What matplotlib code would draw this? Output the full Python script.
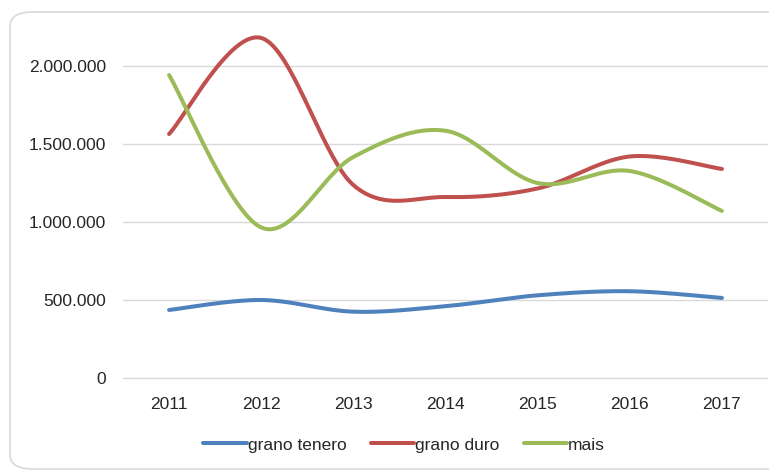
import numpy as np
import matplotlib
matplotlib.use("Agg")
import matplotlib.pyplot as plt
from matplotlib.patches import FancyBboxPatch
from matplotlib.ticker import FuncFormatter

anni = ["2011", "2012", "2013", "2014", "2015", "2016", "2017"]
grano_tenero = [436000, 500000, 425000, 460000, 530000, 556000, 513000]
grano_duro = [1564000, 2180000, 1237000, 1160000, 1215000, 1420000, 1340000]
mais = [1942000, 965000, 1417000, 1585000, 1250000, 1327000, 1071000]

serie = [("grano tenero", grano_tenero, "#4F81BD"),
         ("grano duro", grano_duro, "#C0504D"),
         ("mais", mais, "#9BBB59")]


def smooth(y, n=40):
    # curva tipo Excel (Catmull-Rom -> Bezier)
    y = np.asarray(y, dtype=float)
    x = np.arange(len(y), dtype=float)
    pts = np.column_stack([x, y])
    out = []
    for i in range(len(pts) - 1):
        p0 = pts[max(i - 1, 0)]
        p1 = pts[i]
        p2 = pts[i + 1]
        p3 = pts[min(i + 2, len(pts) - 1)]
        c1 = p1 + (p2 - p0) / 6
        c2 = p2 - (p3 - p1) / 6
        t = np.linspace(0, 1, n)[:, None]
        seg = ((1 - t) ** 3) * p1 + 3 * ((1 - t) ** 2) * t * c1 + 3 * (1 - t) * t ** 2 * c2 + t ** 3 * p2
        out.append(seg if i == 0 else seg[1:])
    out = np.vstack(out)
    return out[:, 0], out[:, 1]


plt.rcParams['font.family'] = ['Liberation Sans', 'DejaVu Sans']

fig = plt.figure(figsize=(7.69, 4.73), dpi=100)
fig.patches.append(FancyBboxPatch((10 / 769, 4 / 473), 1.2, 457 / 473,
                                  boxstyle="round,pad=0,rounding_size=0.03",
                                  transform=fig.transFigure, facecolor="white",
                                  edgecolor="#D9D9D9", linewidth=1.2, zorder=-5))

ax = fig.add_axes([123 / 769, 1 - 380 / 473, 645 / 769, 355 / 473])
ax.set_facecolor("none")
ax.set_zorder(2)

for nome, vals, col in serie:
    xs, ys = smooth(vals)
    ax.plot(xs, ys, color=col, lw=2.9, solid_capstyle="round", label=nome, zorder=3)

ax.set_xlim(-0.5, len(anni) - 0.5)
ax.set_ylim(-13000, 2263000)
ax.set_yticks([0, 500000, 1000000, 1500000, 2000000])
ax.yaxis.set_major_formatter(FuncFormatter(lambda v, p: f"{int(v):,}".replace(",", ".")))
ax.set_xticks(range(len(anni)))
ax.set_xticklabels(anni)
ax.grid(axis="y", color="#D9D9D9", lw=1)
ax.set_axisbelow(True)
for s in ax.spines.values():
    s.set_visible(False)
ax.tick_params(length=0, labelsize=12.5, colors="#262626")
ax.tick_params(axis="x", pad=12)
ax.tick_params(axis="y", pad=12)

fig.legend(loc="center", bbox_to_anchor=(404 / 769, 1 - 445 / 473), ncol=3, frameon=False,
           fontsize=12.5, handlelength=2.5, handletextpad=0.05, columnspacing=1.4,
           labelcolor="#262626")

fig.savefig("out.png", dpi=100)
